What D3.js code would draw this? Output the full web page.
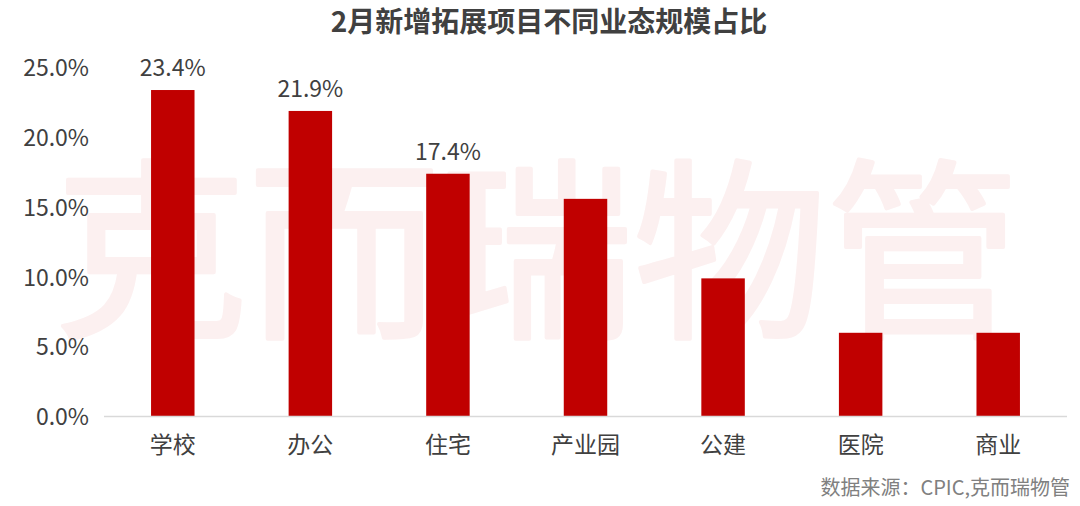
<!DOCTYPE html>
<html><head><meta charset="utf-8">
<script src="https://cdn.jsdelivr.net/npm/d3@7"></script>
<style>
html,body{margin:0;padding:0;background:#fff;}
svg{display:block;font-family:"Noto Sans CJK SC","Noto Sans",sans-serif;}
</style></head>
<body>
<svg id="chart" width="1080" height="506"></svg>
<script>
const categories = ["学校","办公","住宅","产业园","公建","医院","商业"];
const values = [23.4, 21.9, 17.4, 15.6, 9.9, 6.0, 6.0];
const labeledCount = 3;
const yTicks = [0, 5, 10, 15, 20, 25];
const title = "2月新增拓展项目不同业态规模占比";
const source = "数据来源：CPIC,克而瑞物管";
const watermark = "克而瑞物管";

const svg = d3.select("#chart");
const x = d3.scaleBand().domain(categories).range([104, 1067]).paddingInner(0.684).paddingOuter(0.342);
const y = d3.scaleLinear().domain([0, 25]).range([416.5, 67.7]);

// watermark
svg.append("text")
  .attr("x", 537).attr("y", 323)
  .attr("text-anchor", "middle")
  .attr("font-size", 193)
  .attr("font-weight", "normal")
  .attr("fill", "#fcf0f0")
  .attr("stroke", "#fcf0f0")
  .attr("stroke-width", 4)
  .attr("stroke-linejoin", "round")
  .text(watermark);

// title
svg.append("text")
  .attr("x", 549).attr("y", 32)
  .attr("text-anchor", "middle")
  .attr("font-size", 28)
  .attr("font-weight", "bold")
  .attr("fill", "#404040")
  .text(title);

// y axis labels
const yAxis = d3.axisLeft(y).tickValues(yTicks).tickSize(0).tickPadding(0)
  .tickFormat(d => d.toFixed(1) + "%");
const gy = svg.append("g").attr("transform", "translate(89,0)").call(yAxis);
gy.select(".domain").remove();
gy.selectAll("text").attr("font-size", 23).attr("fill", "#404040")
  .attr("font-family", "'Noto Sans CJK SC','Noto Sans',sans-serif").attr("dy", "0.35em");

// bars
svg.append("g").selectAll("rect").data(values).join("rect")
  .attr("x", (d, i) => x(categories[i]))
  .attr("y", d => y(d))
  .attr("width", x.bandwidth())
  .attr("height", d => y(0) - y(d))
  .attr("fill", "#c00000");

// x axis
const xAxis = d3.axisBottom(x).tickSize(0).tickPadding(20);
const gx = svg.append("g").attr("transform", `translate(0,${y(0)})`).call(xAxis);
gx.select(".domain").attr("stroke", "#d9d9d9").attr("stroke-width", 1.5)
  .attr("d", "M104,0H1067");
gx.selectAll("text").attr("font-size", 23).attr("fill", "#404040")
  .attr("font-family", "'Noto Sans CJK SC','Noto Sans',sans-serif").attr("dy", "0.71em");

// data labels
svg.append("g").selectAll("text").data(values.slice(0, labeledCount)).join("text")
  .attr("x", (d, i) => x(categories[i]) + x.bandwidth() / 2)
  .attr("y", d => y(d) - 14)
  .attr("text-anchor", "middle")
  .attr("font-size", 23)
  .attr("fill", "#404040")
  .text(d => d.toFixed(1) + "%");

// source
svg.append("text")
  .attr("x", 1070).attr("y", 495)
  .attr("text-anchor", "end")
  .attr("font-size", 20)
  .attr("fill", "#808080")
  .text(source);
</script>
</body></html>
